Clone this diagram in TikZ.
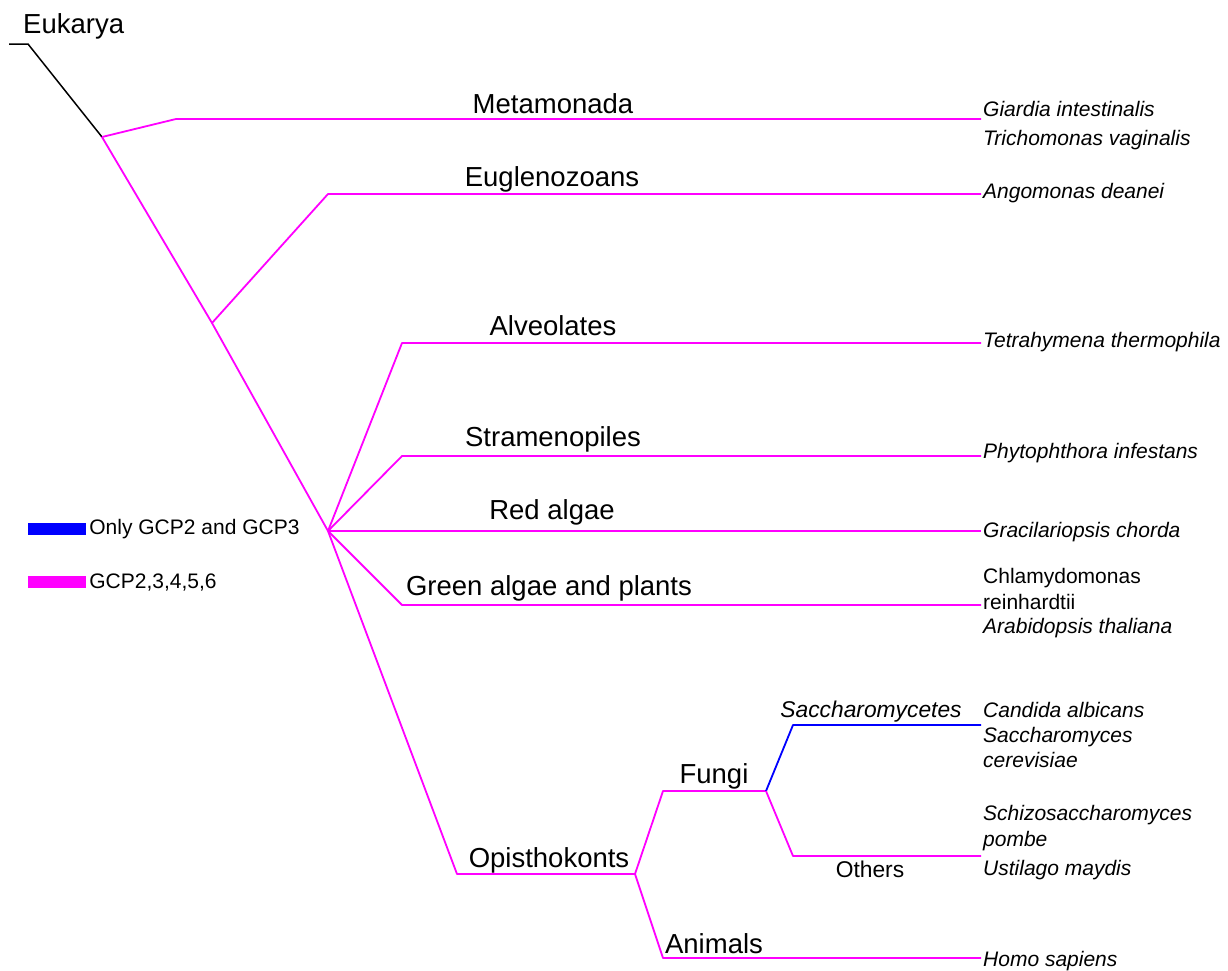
\documentclass[tikz,border=0pt]{standalone}
\usepackage{fontspec}
\setmainfont{Liberation Sans}
\usetikzlibrary{positioning}
\definecolor{gcpall}{RGB}{255,0,255}
\definecolor{gcponly}{RGB}{0,0,255}
\tikzset{  
    twig/.style = {draw=gcpall, line width=1.8pt, line join=round},% the magenta branches of the tree
    twigonly/.style = {draw=gcponly, line width=1.8pt, line join=round},
    stem/.style = {draw=black, line width=1.5pt},
    clade/.style = {font=\fontsize{27.5}{32}\selectfont, anchor=base, inner sep=0pt},
    subclade/.style = {font=\fontsize{22.8}{26}\selectfont, anchor=base, inner sep=0pt},
    leaf/.style = {font=\fontsize{21}{25}\selectfont\itshape, anchor=base west, inner sep=0pt},
    leafup/.style = {font=\fontsize{21}{25}\selectfont, anchor=base west, inner sep=0pt},
    legbar/.style = {rectangle, minimum width=58pt, minimum height=12pt, inner sep=0pt},
    legtext/.style = {font=\fontsize{21}{25}\selectfont, inner sep=0pt}
}
\begin{document}
\begin{tikzpicture}[x=1pt, y=-1pt]
    \useasboundingbox (0,0) rectangle (1228,970);
    % points of the tree
    \coordinate (root) at (9,44);
    \coordinate (rootK) at (28,44);
    \coordinate (eukN) at (102,137);
    \coordinate (metaK) at (176,119);
    \coordinate (metaE) at (981,119);
    \coordinate (excN) at (212,323);
    \coordinate (eugK) at (328,194);
    \coordinate (eugE) at (981,194);
    \coordinate (diaN) at (328,531);
    \coordinate (alvK) at (402,343);
    \coordinate (alvE) at (981,343);
    \coordinate (strK) at (402,456);
    \coordinate (strE) at (981,456);
    \coordinate (redE) at (981,531);
    \coordinate (greK) at (402,605);
    \coordinate (greE) at (981,605);
    \coordinate (opiK) at (457,874);
    \coordinate (opiN) at (635,874);
    \coordinate (funK) at (663,791);
    \coordinate (funN) at (766,791);
    \coordinate (sacK) at (793,725);
    \coordinate (sacE) at (981,725);
    \coordinate (othK) at (793,856);
    \coordinate (othE) at (981,856);
    \coordinate (aniK) at (663,958);
    \coordinate (aniE) at (981,958);

    % branches
    \draw[stem] (root) -- (rootK) -- (eukN);
    \draw[twig] (eukN) -- (metaK) -- (metaE);
    \draw[twig] (eukN) -- (excN) -- (diaN);
    \draw[twig] (excN) -- (eugK) -- (eugE);
    \draw[twig] (diaN) -- (alvK) -- (alvE);
    \draw[twig] (diaN) -- (strK) -- (strE);
    \draw[twig] (diaN) -- (redE);
    \draw[twig] (diaN) -- (greK) -- (greE);
    \draw[twig] (diaN) -- (opiK) -- (opiN);
    \draw[twig] (opiN) -- (funK) -- (funN);
    \draw[twig] (opiN) -- (aniK) -- (aniE);
    \draw[twigonly] (funN) -- (sacK) -- (sacE);
    \draw[twig] (funN) -- (othK) -- (othE);

    % clade names
    \node[clade, anchor=base west] (eukarya) at (23,33) {Eukarya};
    \node[clade] (metamonada) at (553,113) {Metamonada};
    \node[clade] (euglenozoans) at (552,186) {Euglenozoans};
    \node[clade] (alveolates) at (553,335) {Alveolates};
    \node[clade] (stramenopiles) at (553,446) {Stramenopiles};
    \node[clade] (redalgae) at (552,519) {Red algae};
    \node[clade] (greenalgae) at (549,595) {Green algae and plants};
    \node[clade] (opisthokonts) at (549,867) {Opisthokonts};
    \node[clade] (fungi) at (714,783) {Fungi};
    \node[clade] (animals) at (714,953) {Animals};
    \node[subclade, font=\fontsize{22.8}{26}\selectfont\itshape] (saccharomycetes) at (871,717) {Saccharomycetes};
    \node[subclade] (others) at (870,877) {Others};

    % species
    \node[leaf] (giardia) at (983,116) {Giardia intestinalis};
    \node[leaf] (trichomonas) at (983,145) {Trichomonas vaginalis};
    \node[leaf] (angomonas) at (983,198) {Angomonas deanei};
    \node[leaf] (tetrahymena) at (983,347) {Tetrahymena thermophila};
    \node[leaf] (phytophthora) at (983,458) {Phytophthora infestans};
    \node[leaf] (gracilariopsis) at (983,537) {Gracilariopsis chorda};
    \node[leafup] (chlamyA) at (983,583) {Chlamydomonas};
    \node[leafup] (chlamyB) at (983,609) {reinhardtii};
    \node[leaf] (arabidopsis) at (983,633) {Arabidopsis thaliana};
    \node[leaf] (candida) at (983,717) {Candida albicans};
    \node[leaf] (saccharoA) at (983,742) {Saccharomyces};
    \node[leaf] (saccharoB) at (983,767) {cerevisiae};
    \node[leaf] (schizoA) at (983,820) {Schizosaccharomyces};
    \node[leaf] (schizoB) at (983,846) {pombe};
    \node[leaf] (ustilago) at (983,875) {Ustilago maydis};
    \node[leaf] (homo) at (983,966) {Homo sapiens};

    % legend
    \node[legbar, fill=gcponly] (keyonly) at (57,529) {};
    \node[legtext, right=3pt of keyonly] (keyonlytext) {Only GCP2 and GCP3};
    \node[legbar, fill=gcpall] (keyall) at (57,582) {};
    \node[legtext, right=3pt of keyall] (keyalltext) {GCP2,3,4,5,6};
\end{tikzpicture}
\end{document}
